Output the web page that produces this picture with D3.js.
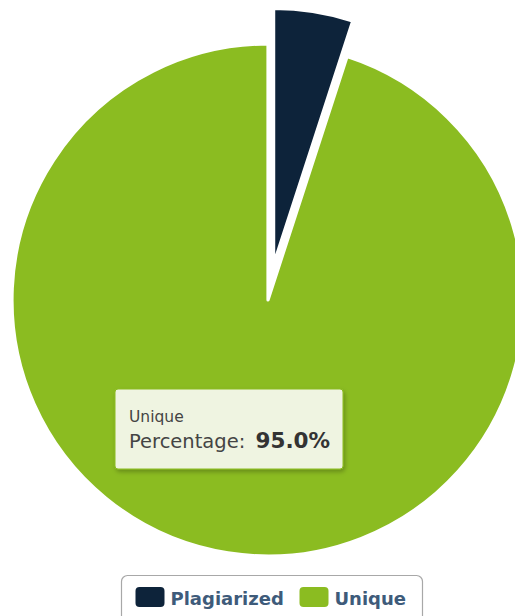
<!DOCTYPE html>
<html>
<head>
<meta charset="utf-8">
<script src="https://cdn.jsdelivr.net/npm/d3@7"></script>
<style>
  html, body { margin: 0; padding: 0; background: #fff; }
  svg { display: block; }
  text { font-family: "DejaVu Sans", Verdana, sans-serif; }
</style>
</head>
<body>
<svg id="chart" width="515" height="616"></svg>
<script>
// Share of the checked text
const categories = ["Plagiarized", "Unique"];
const percentages = [5.0, 95.0];
const colors = ["#0d233a", "#8bbc21"];
const slicedOut = ["Plagiarized"];
const hovered = "Unique";

const W = 515, H = 616;
const cx = 268, cy = 300, radius = 256, sliceOffset = 36;

const svg = d3.select("#chart");

const defs = svg.append("defs");
const shadow = defs.append("filter").attr("id", "tipShadow")
  .attr("x", "-10%").attr("y", "-10%").attr("width", "130%").attr("height", "140%");
shadow.append("feDropShadow").attr("dx", 1.5).attr("dy", 2.5).attr("stdDeviation", 2)
  .attr("flood-color", "#000").attr("flood-opacity", 0.25);

const color = d3.scaleOrdinal().domain(categories).range(colors);

const pie = d3.pie().sort(null).value(d => d.value);
const arcs = pie(categories.map((c, i) => ({ name: c, value: percentages[i] })));
const arc = d3.arc().innerRadius(0).outerRadius(radius);

const g = svg.append("g").attr("transform", `translate(${cx},${cy})`);

g.selectAll("path.slice")
  .data(arcs)
  .join("path")
  .attr("class", "slice")
  .attr("d", arc)
  .attr("fill", d => color(d.data.name))
  .attr("stroke", "#fff")
  .attr("stroke-width", 3.2)
  .attr("stroke-linejoin", "round")
  .attr("transform", d => {
    if (!slicedOut.includes(d.data.name)) return null;
    const a = (d.startAngle + d.endAngle) / 2;
    return `translate(${Math.sin(a) * sliceOffset},${-Math.cos(a) * sliceOffset})`;
  });

// Tooltip for the hovered slice
const hi = categories.indexOf(hovered);
const tip = svg.append("g").attr("transform", "translate(115,389)");
tip.append("rect")
  .attr("width", 228).attr("height", 80).attr("rx", 3)
  .attr("fill", "#eff4e1")
  .attr("stroke", color(hovered)).attr("stroke-width", 1)
  .attr("filter", "url(#tipShadow)");
tip.append("text")
  .attr("x", 14).attr("y", 33)
  .attr("font-size", 15.5).attr("fill", "#444")
  .text(categories[hi]);
const line = tip.append("text")
  .attr("x", 14).attr("y", 59)
  .attr("font-size", 19.5).attr("fill", "#444");
line.append("tspan").text("Percentage: ");
line.append("tspan").attr("dx", 4).attr("font-weight", "bold").attr("font-size", 21.5).attr("fill", "#333")
  .text(d3.format(".1f")(percentages[hi]) + "%");

// Legend
const legend = svg.append("g").attr("transform", "translate(121.5,575.5)");
legend.append("rect")
  .attr("width", 301).attr("height", 60).attr("rx", 6)
  .attr("fill", "#fff").attr("stroke", "#a8a8a8").attr("stroke-width", 1.2);

const itemX = [14, 178];
const items = legend.selectAll("g.item")
  .data(categories)
  .join("g")
  .attr("class", "item")
  .attr("transform", (d, i) => `translate(${itemX[i]},0)`);
items.append("rect")
  .attr("x", 0).attr("y", 11.5).attr("width", 29).attr("height", 20).attr("rx", 4)
  .attr("fill", d => color(d));
items.append("text")
  .attr("x", 35).attr("y", 29.5)
  .attr("font-size", 18).attr("font-weight", "bold").attr("fill", "#3e5b7a")
  .text(d => d);
</script>
</body>
</html>
